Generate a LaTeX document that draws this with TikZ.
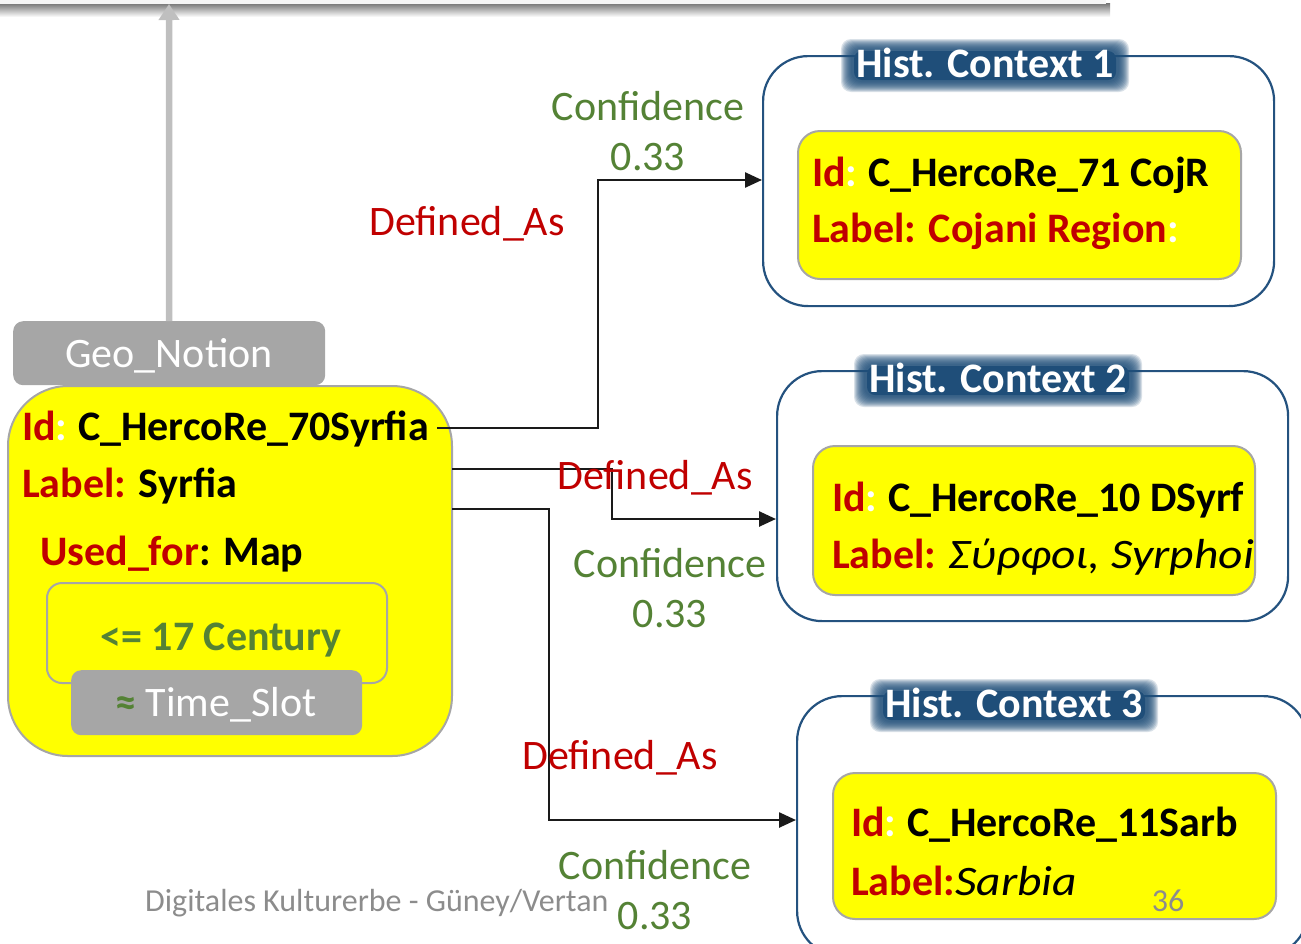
\documentclass[tikz,border=0pt]{standalone}
\usepackage{fontspec}
\setmainfont{Carlito}
\usetikzlibrary{arrows.meta}

\definecolor{dred}{HTML}{C00000}
\definecolor{dgreen}{HTML}{548235}
\definecolor{boxgray}{HTML}{A6A6A6}
\definecolor{arrgray}{HTML}{BFBFBF}
\definecolor{navy}{HTML}{1F4E79}
\definecolor{frame}{HTML}{24527F}
\definecolor{footgray}{HTML}{8C8C8C}
\definecolor{lineblk}{HTML}{1A1A1A}
\definecolor{ylw}{RGB}{255,255,0}

% blurred dark-blue plate behind a context title: centre x, baseline y, half width
\newcommand\glowplate[3]{%
  \foreach \k in {0,...,10}{%
    \fill[navy, opacity=0.17, rounded corners=10pt]
      (#1-#3-\k, #2-28-\k) rectangle (#1+#3+\k, #2+5+\k);
  }%
  \fill[navy, rounded corners=8pt] (#1-#3+3, #2-26) rectangle (#1+#3-3, #2+3);
}
% wide italic used for the labels of the contexts
\newcommand\wideit{\mdseries\itshape\addfontfeatures{FakeStretch=1.13}}

\tikzset{
  txt/.style={anchor=base west, inner sep=0pt, font=\fontsize{42}{50}\selectfont\bfseries},
  ctxt/.style={anchor=base, inner sep=0pt, font=\fontsize{42}{50}\selectfont},
  graybox/.style={fill=boxgray, draw=none, rounded corners=10pt, inner sep=0pt},
  ybox/.style={fill=ylw, draw=boxgray, line width=2pt, inner sep=0pt},
  hbox/.style={fill=white, draw=frame, line width=2.2pt, rounded corners=45pt, inner sep=0pt},
  titletxt/.style={anchor=base, inner sep=0pt, text=white, font=\fontsize{42}{50}\selectfont\bfseries},
  conn/.style={draw=lineblk, line width=2.5pt, -{Triangle[length=17pt,width=15pt]}},
  connlbl/.style={anchor=base, inner sep=0pt, font=\fontsize{42}{50}\selectfont},
  footer/.style={inner sep=0pt, font=\fontsize{32}{36}\selectfont, text=footgray},
}

\begin{document}
\begin{tikzpicture}[x=1pt, y=-1pt]
\useasboundingbox (0,0) rectangle (1301,943);

% top bar with its drop shadow
\shade[top color=black!55, bottom color=white] (0,3) rectangle (1110,17);
\fill[black!4] (0,-2) rectangle (1106,4);
\coordinate (bar) at (169,4);

% left concept: Geo_Notion with its attributes
\node[graybox, minimum width=312pt, minimum height=64pt, anchor=north west] (geo) at (13,321) {};
\node[ctxt, text=white] (geotxt) at (169,367) {Geo\_Notion};
\draw[arrgray, line width=6.5pt, -{Triangle[length=16pt,width=20pt]}] (geo.north) -- (bar);

\node[ybox, rounded corners=60pt, minimum width=444pt, minimum height=370pt, anchor=north west] (main) at (7,385) {};
\node[txt] (m1) at (22,440) {\textcolor{dred}{Id}\textcolor{white}{:}\hspace{-2pt} C\_HercoRe\_70Syrfia};
\node[txt] (m2) at (22,497) {\textcolor{dred}{Label:} Syrfia};
\node[txt] (m3) at (40,565) {\textcolor{dred}{Used\_for}: Map};

\node[ybox, rounded corners=15pt, minimum width=340pt, minimum height=100pt, anchor=north west] (slot) at (46,582) {};
\node[ctxt, font=\fontsize{42}{50}\selectfont\bfseries, text=dgreen] (cent) at (221,650) {<= 17 Century};
\node[graybox, minimum width=291pt, minimum height=65pt, anchor=north west] (ts) at (71,670) {};
\node[ctxt, text=white] (tstxt) at (216,716) {\textcolor{dgreen}{\bfseries ≈} Time\_Slot};

% historical contexts
\node[hbox, minimum width=511pt, minimum height=250pt, anchor=north west] (h1) at (762,55) {};
\glowplate{985}{77}{134}
\node[titletxt] (t1) at (985,77) {Hist. Context 1};
\node[ybox, rounded corners=22pt, minimum width=443pt, minimum height=148pt, anchor=north west] (y1) at (797,130) {};
\node[txt] (a1) at (812,186) {\textcolor{dred}{Id}\textcolor{white}{:}\hspace{-2pt} C\_HercoRe\_71 CojR};
\node[txt] (b1) at (812,242) {\textcolor{dred}{Label: Cojani Region}\textcolor{white}{:}};

\node[hbox, minimum width=511pt, minimum height=250pt, anchor=north west] (h2) at (776,370) {};
\glowplate{998}{392}{134}
\node[titletxt] (t2) at (998,392) {Hist. Context 2};
\node[ybox, rounded corners=22pt, minimum width=442pt, minimum height=149pt, anchor=north west] (y2) at (812,445) {};
\node[txt] (a2) at (832,511) {\textcolor{dred}{Id}\textcolor{white}{:}\hspace{-2pt} C\_HercoRe\_10 DSyrf};
\node[txt] (b2) at (832,568) {\textcolor{dred}{Label:} \wideit Σύρφοι, Syrphoi};

\node[hbox, minimum width=511pt, minimum height=260pt, anchor=north west] (h3) at (796,695) {};
\glowplate{1014}{717}{134}
\node[titletxt] (t3) at (1014,717) {Hist. Context 3};
\node[ybox, rounded corners=22pt, minimum width=443pt, minimum height=146pt, anchor=north west] (y3) at (832,772) {};
\node[txt] (a3) at (851,836) {\textcolor{dred}{Id}\textcolor{white}{:}\hspace{-2pt} C\_HercoRe\_11Sarb};
\node[txt] (b3) at (851,895) {\textcolor{dred}{Label:}\wideit Sarbia};

% Defined_As links
\coordinate (s1) at (437,428);
\coordinate (k1) at (598,180);
\coordinate (s2) at (452,469);
\coordinate (k2) at (612,519);
\coordinate (s3) at (452,509);
\coordinate (k3) at (549,820);
\draw[conn] (s1) -| (k1) -- (h1.west |- k1);
\draw[conn] (s2) -| (k2) -- (h2.west |- k2);
\draw[conn] (s3) -| (k3) -- (h3.west |- k3);

\node[connlbl, text=dgreen] (cf1) at (648,120) {Confidence};
\node[connlbl, text=dgreen] (cv1) at (648,170) {0.33};
\node[connlbl, text=dred] (d1) at (467,235) {Defined\_As};

\node[connlbl, text=dred] (d2) at (655,489) {Defined\_As};
\node[connlbl, text=dgreen] (cf2) at (670,577) {Confidence};
\node[connlbl, text=dgreen] (cv2) at (670,627) {0.33};

\node[connlbl, text=dred] (d3) at (620,769) {Defined\_As};
\node[connlbl, text=dgreen] (cf3) at (655,879) {Confidence};
\node[connlbl, text=dgreen] (cv3) at (655,929) {0.33};

% footer
\node[footer, anchor=base west] (foot) at (145,911) {Digitales Kulturerbe - Güney/Vertan};
\node[footer, anchor=base] (pg) at (1168,911) {36};
\end{tikzpicture}
\end{document}
